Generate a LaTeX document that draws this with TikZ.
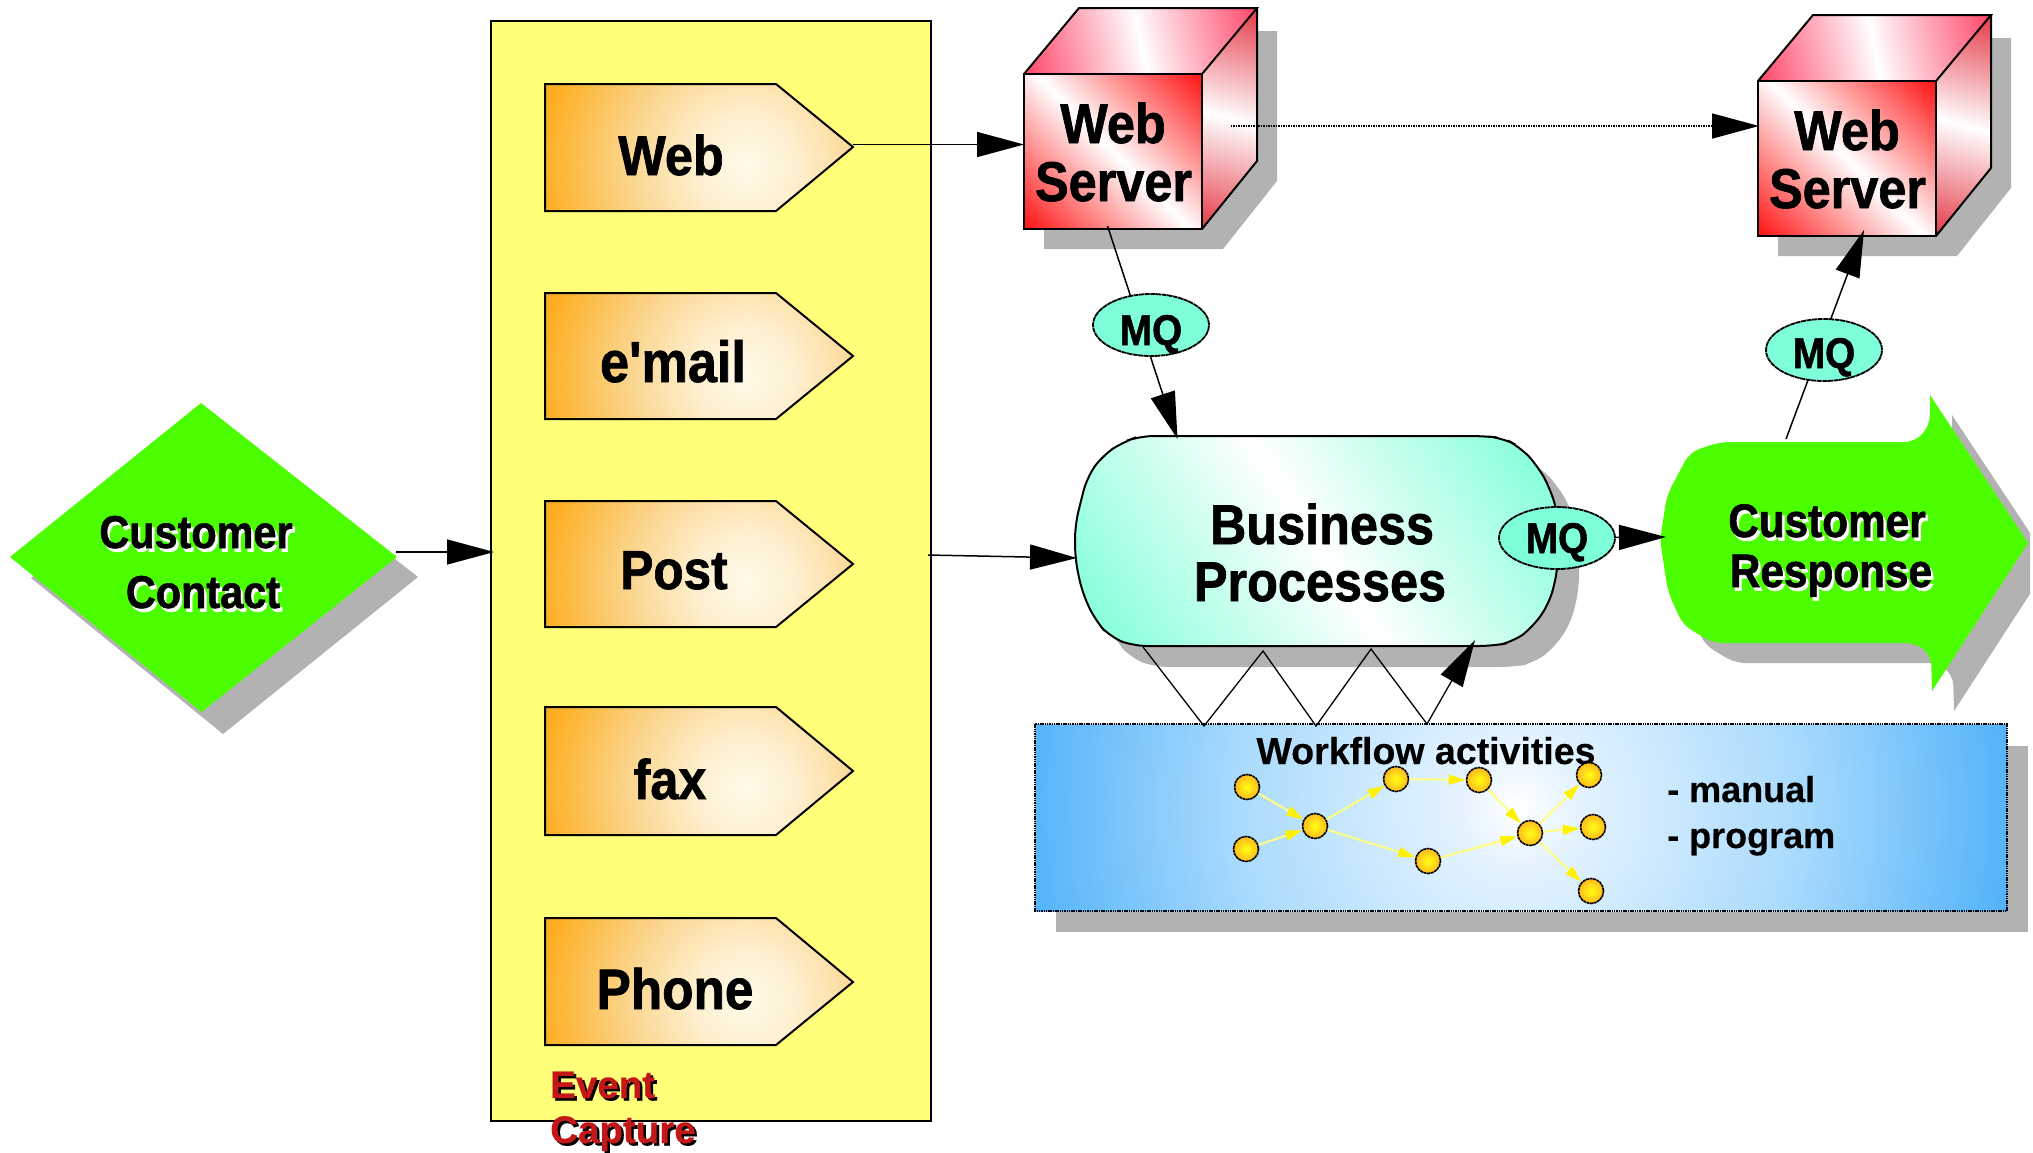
\documentclass[tikz,border=0pt]{standalone}
\usepackage{fontspec}
\usetikzlibrary{arrows.meta,shapes.geometric}
\setmainfont{Liberation Sans}
\newfontfamily\lab[FakeStretch=0.9,FakeBold=1.2]{Liberation Sans Bold}
\newfontfamily\labplain[FakeBold=0.3]{Liberation Sans Bold}
\definecolor{shad}{HTML}{B2B2B2}
\definecolor{grn}{HTML}{4CFF00}
\definecolor{ylw}{HTML}{FFFF7A}
\definecolor{aqua}{HTML}{7FFFD9}
\definecolor{redE}{HTML}{FF0000}
\definecolor{redT}{HTML}{FF2850}
\definecolor{redS}{HTML}{E01C2C}
\definecolor{penA}{HTML}{FFFAEA}
\definecolor{penB}{HTML}{FEF0D0}
\definecolor{penC}{HTML}{FBD690}
\definecolor{penD}{HTML}{FDAE20}
\definecolor{bluA}{HTML}{FFFFFF}
\definecolor{bluB}{HTML}{E4F3FF}
\definecolor{bluC}{HTML}{A8DAFD}
\definecolor{bluD}{HTML}{4DB0F8}
\definecolor{dotA}{HTML}{FFFF10}
\definecolor{dotB}{HTML}{FFB820}
\definecolor{evt}{HTML}{C41818}
\definecolor{wfline}{HTML}{FFFF80}
\pgfdeclarehorizontalshading{redfront}{100bp}{color(0bp)=(redE); color(12bp)=(redE); color(50bp)=(white); color(88bp)=(redE); color(100bp)=(redE)}
\pgfdeclarehorizontalshading{redtop}{100bp}{color(0bp)=(redT); color(15bp)=(redT); color(50bp)=(white); color(85bp)=(redT); color(100bp)=(redT)}
\pgfdeclarehorizontalshading{redside}{100bp}{color(0bp)=(redS); color(15bp)=(redS); color(50bp)=(white); color(85bp)=(redS); color(100bp)=(redS)}
\pgfdeclarehorizontalshading{aquaband}{100bp}{color(0bp)=(aqua); color(17bp)=(aqua); color(50bp)=(white); color(83bp)=(aqua); color(100bp)=(aqua)}
\pgfdeclareradialshading{penglow}{\pgfpointorigin}{color(0bp)=(penA); color(6bp)=(penB); color(14bp)=(penC); color(25bp)=(penD); color(50bp)=(penD)}
\pgfdeclareradialshading{bluglow}{\pgfpointorigin}{color(0bp)=(bluA); color(3bp)=(bluB); color(14bp)=(bluC); color(25bp)=(bluD); color(50bp)=(bluD)}
\pgfdeclareradialshading{dotglow}{\pgfpointorigin}{color(0bp)=(dotA); color(25bp)=(dotB); color(50bp)=(dotB)}
\tikzset{
  conn/.style={draw=black,line width=1.5pt,-{Triangle[length=47pt,width=25pt]}},
  dotconn/.style={conn,dash pattern=on 1.5pt off 1pt},
  plainlink/.style={draw=black,line width=1.3pt},
  outline/.style={draw=black,line width=2pt,line join=miter},
  lbl/.style={anchor=base,inner sep=0pt,align=center},
  mqnode/.style={ellipse,draw=black,line width=1.8pt,dash pattern=on 5pt off 0.6pt,fill=aqua,minimum width=116pt,minimum height=62pt,inner sep=0pt},
  wfdot/.style={circle,draw=black,line width=1.6pt,dash pattern=on 3pt off 0.6pt,minimum width=24pt,minimum height=25pt,inner sep=0pt,shading=dotglow},
  wfarrow/.style={draw=wfline,line width=2pt,-{Triangle[length=17pt,width=10pt,color=yellow]}},
  soft/.style={rounded corners=14pt},
}
\newcommand{\labtext}[5]{% name, x, baseline, size, text
  \node[lbl] (#1) at (#2,#3) {\lab\fontsize{#4}{#4}\selectfont #5};}
\newcommand{\whitelabtext}[5]{% white under-print, then the black text
  \node[lbl,text=white] (#1w) at (#2+2.5,#3+3.5) {\lab\fontsize{#4}{#4}\selectfont #5};
  \node[lbl] (#1) at (#2,#3) {\lab\fontsize{#4}{#4}\selectfont #5};}
\newcommand{\pentagon}[4]{% name, top, bottom, mid
  \begin{scope}
    \clip (545,#2) -- (776,#2) -- (853,#4) -- (776,#3) -- (545,#3) -- cycle;
    \fill[penD] (540,#2-5) rectangle (860,#3+5);
    \shade[shading=penglow] (746,#2+82) circle (206);
  \end{scope}
  \draw[outline] (545,#2) -- (776,#2) -- (853,#4) -- (776,#3) -- (545,#3) -- cycle;
  \coordinate (#1tip) at (853,#4);
}
\newcommand{\cubeshape}[2]{% name, shift
  \begin{scope}[shift={#2}]
    \fill[shad] (1044,249) -- (1223,249) -- (1277,181) -- (1277,31) -- (1100,31) -- (1044,96) -- cycle;
    \shade[shading=redfront,shading angle=45] (1024,74) -- (1202,74) -- (1202,229) -- (1024,229) -- cycle;
    \shade[shading=redtop,shading angle=13] (1024,74) -- (1079,8) -- (1257,8) -- (1202,74) -- cycle;
    \shade[shading=redside,shading angle=75] (1202,74) -- (1257,8) -- (1257,161) -- (1202,229) -- cycle;
    \draw[outline] (1024,74) -- (1202,74) -- (1202,229) -- (1024,229) -- cycle;
    \draw[outline] (1024,74) -- (1079,8) -- (1257,8) -- (1202,74);
    \draw[outline] (1257,8) -- (1257,161) -- (1202,229);
    \coordinate (#1west) at (1024,144.5);
    \coordinate (#1east) at (1230.5,126);
    \coordinate (#1south) at (1107.5,226);
  \end{scope}
}
\def\bpoutline{(1140,436) -- (1483,436) -- (1503,438) -- (1520,447) -- (1537,465) -- (1550,488) -- (1558,515) -- (1558,568) -- (1550,602) -- (1533,627) -- (1513,642) -- (1493,646) -- (1133,646) -- (1110,637) -- (1095,620) -- (1082,592) -- (1075,558) -- (1075,525) -- (1087,477) -- (1103,455) -- (1123,442) -- cycle}
\def\greenleft{(1713,442) -- (1907,442)}
\def\greenoutline{(1800,442) [rounded corners=10pt] -- (1915,442) -- (1930,425) [sharp corners] -- (1930,395) -- (2028,543) -- (1932,691) [rounded corners=10pt] -- (1931,655) -- (1916,643) -- (1713,643) -- (1683,625) -- (1668,592) -- (1660,540) -- (1667,495) -- (1690,452) -- (1720,442) [sharp corners] -- (1800,442) -- cycle}
\begin{document}
\begin{tikzpicture}[x=1pt,y=-1pt]
\useasboundingbox (0,0) rectangle (2033,1152);

% Customer contact diamond
\fill[shad] (31,578) -- (222,424) -- (418,577) -- (223,734) -- cycle;
\fill[grn] (10,557) -- (201,403) -- (397,557) -- (201.5,712) -- cycle;
\coordinate (diaE) at (396,552);

% Event capture panel
\path[fill=ylw,draw=black,line width=1.6pt] (491,21) rectangle (931,1121);
\coordinate (panelW) at (494,552);
\coordinate (panelE) at (928,555);

% Channels
\pentagon{web}{84}{211}{147}
\pentagon{mail}{293}{419}{356}
\pentagon{post}{501}{627}{564}
\pentagon{fax}{707}{835}{771}
\pentagon{phone}{918}{1045}{982}
\coordinate (webout) at (853,144.5);

% Web servers
\cubeshape{ca}{(0,0)}
\cubeshape{cb}{(734,7)}
\coordinate (cbwest) at (1759,126);
\coordinate (cbin) at (1864,230);

% Business processes
\begin{scope}[shift={(21,21)}]
  \fill[shad,soft] \bpoutline;
\end{scope}
\shade[shading=aquaband,shading angle=33,soft] \bpoutline;
\draw[outline,soft] \bpoutline;
\coordinate (bpN) at (1177.5,439);
\coordinate (bpW) at (1077,558);
\coordinate (bpE) at (1550,538);
\coordinate (bpS1) at (1143,647);
\coordinate (bpS2) at (1263,651);
\coordinate (bpS3) at (1371,649);
\coordinate (bpS4) at (1475,640);

% Customer response arrow
\begin{scope}
  \clip (1600,380) rectangle (2030,730);
  \begin{scope}[shift={(22,20)}]
    \fill[shad] \greenoutline;
  \end{scope}
\end{scope}
\fill[grn] \greenoutline;
\coordinate (respN) at (1786,439);
\coordinate (respW) at (1666,537);

% Workflow panel
\fill[shad] (1056,746) rectangle (2028,932);
\begin{scope}
  \clip (1035,724) rectangle (2007,911);
  \fill[bluD] (1035,724) rectangle (2007,911);
  \shade[shading=bluglow] (1517,807) circle (510);
\end{scope}
\draw[black,line width=2pt,dash pattern=on 1.5pt off 0.8pt] (1035,724) rectangle (2007,911);
\coordinate (wfA) at (1204,726);
\coordinate (wfB) at (1316,726);
\coordinate (wfC) at (1427,724);

% Connectors
\draw[conn] (diaE) -- (panelW);
\draw[conn] (webout) -- (cawest);
\draw[dotconn] (caeast) -- (cbwest);
\draw[conn] (panelE) -- (bpW);
\draw[conn] (casouth) -- (bpN);
\draw[conn] (respN) -- (cbin);
\draw[conn] (bpE) -- (respW);
\draw[plainlink] (bpS1) -- (wfA) -- (bpS2) -- (wfB) -- (bpS3) -- (wfC);
\draw[conn,line width=1.3pt] (wfC) -- (bpS4);

% MQ
\node[mqnode] (mqa) at (1151,325) {};
\node[mqnode] (mqb) at (1824,350) {};
\node[mqnode] (mqc) at (1557,538) {};
\labtext{mqat}{1151}{345}{43}{MQ}
\labtext{mqbt}{1824}{368}{43}{MQ}
\labtext{mqct}{1557}{553}{43}{MQ}

% Text
\whitelabtext{contacta}{196}{548}{46}{Customer}
\whitelabtext{contactb}{203}{608}{46}{Contact}
\labtext{tweb}{671}{175}{56}{Web}
\labtext{tmail}{673}{382}{58}{e'mail}
\labtext{tpost}{674}{589}{55}{Post}
\labtext{tfax}{670}{799}{56}{fax}
\labtext{tphone}{675}{1009}{57}{Phone}
\node[lbl,anchor=base west,text=black] (eventas) at (552.5,1100.5) {\labplain\fontsize{38.5}{38.5}\selectfont Event};
\node[lbl,anchor=base west,text=evt] (eventa) at (550,1098) {\labplain\fontsize{38.5}{38.5}\selectfont Event};
\node[lbl,anchor=base west,text=black] (eventbs) at (552.5,1145.5) {\labplain\fontsize{38.5}{38.5}\selectfont Capture};
\node[lbl,anchor=base west,text=evt] (eventb) at (550,1143) {\labplain\fontsize{38.5}{38.5}\selectfont Capture};
\labtext{wsa}{1113}{143}{56}{Web}
\labtext{wsb}{1113.5}{201}{56}{Server}
\labtext{wsc}{1847}{150}{56}{Web}
\labtext{wsd}{1847.5}{208}{56}{Server}
\labtext{bpa}{1322}{544}{56}{Business}
\labtext{bpb}{1320}{601}{56}{Processes}
\whitelabtext{resa}{1827}{537}{47}{Customer}
\whitelabtext{resb}{1831}{587}{47}{Response}
\node[lbl] (wft) at (1426,764) {\labplain\fontsize{37.5}{37.5}\selectfont Workflow activities};
\node[lbl,anchor=base west] (wfm) at (1667,802) {\labplain\fontsize{36}{36}\selectfont - manual};
\node[lbl,anchor=base west] (wfp) at (1667,848) {\labplain\fontsize{36}{36}\selectfont - program};

% Workflow graph
\node[wfdot] (n1) at (1247,787) {};
\node[wfdot] (n2) at (1246,849) {};
\node[wfdot] (n3) at (1315,826) {};
\node[wfdot] (n4) at (1396,779) {};
\node[wfdot] (n5) at (1479,780) {};
\node[wfdot] (n6) at (1589,775) {};
\node[wfdot] (n7) at (1593,827) {};
\node[wfdot] (n8) at (1530,833) {};
\node[wfdot] (n9) at (1428,861) {};
\node[wfdot] (n10) at (1591,891) {};
\draw[wfarrow] (n1) -- (n3);
\draw[wfarrow] (n2) -- (n3);
\draw[wfarrow] (n3) -- (n4);
\draw[wfarrow] (n3) -- (n9);
\draw[wfarrow] (n4) -- (n5);
\draw[wfarrow] (n9) -- (n8);
\draw[wfarrow] (n5) -- (n8);
\draw[wfarrow] (n8) -- (n6);
\draw[wfarrow] (n8) -- (n7);
\draw[wfarrow] (n8) -- (n10);
\end{tikzpicture}
\end{document}
